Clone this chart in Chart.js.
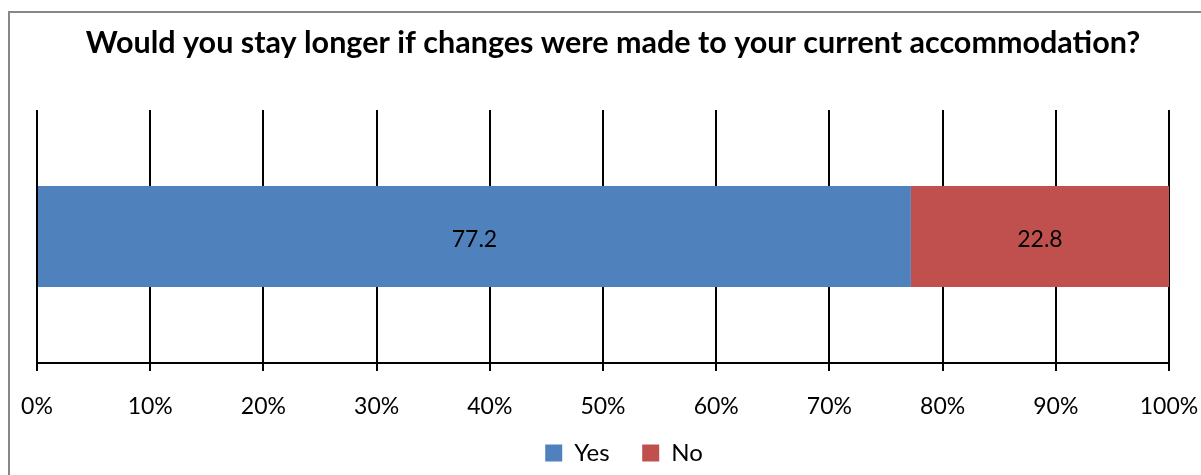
<!DOCTYPE html>
<html>
<head>
<meta charset="utf-8">
<script src="https://cdn.jsdelivr.net/npm/chart.js@4.4.1/dist/chart.umd.min.js"></script>
<style>
  html, body { margin: 0; padding: 0; background: #fff; }
  #wrap { position: relative; width: 1201px; height: 475px; }
</style>
</head>
<body>
<div id="wrap"><canvas id="c" width="1201" height="475"></canvas></div>
<script>
// Survey answers, as a share of respondents (percent)
const categories = ['Would you stay longer'];
const seriesNames = ['Yes', 'No'];
const yesValues = [77.2];
const noValues = [22.8];
const tickValues = [0, 10, 20, 30, 40, 50, 60, 70, 80, 90, 100];
const titleText = 'Would you stay longer if changes were made to your current accommodation?';

const FONT = 'Lato, "Open Sans", sans-serif';

// Frame around the whole chart
const framePlugin = {
  id: 'frame',
  beforeDraw(chart) {
    const ctx = chart.ctx;
    ctx.save();
    ctx.fillStyle = '#fff';
    ctx.fillRect(0, 0, chart.width, chart.height);
    ctx.strokeStyle = '#878787';
    ctx.lineWidth = 2;
    ctx.strokeRect(9, 12, chart.width + 20, chart.height + 20);
    ctx.restore();
  },
  // title and legend sit a little to the right of the plot centre
  afterLayout(chart) {
    if (chart.legend) {
      chart.legend.left += 21;
      chart.legend.right += 21;
    }
    if (chart.titleBlock) {
      chart.titleBlock.left += 10;
      chart.titleBlock.right += 10;
    }
  }
};

// Value text centred inside each bar segment
const valueLabels = {
  id: 'valueLabels',
  afterDatasetsDraw(chart) {
    const ctx = chart.ctx;
    ctx.save();
    ctx.font = '23px ' + FONT;
    ctx.fillStyle = '#000';
    ctx.textAlign = 'center';
    ctx.textBaseline = 'middle';
    chart.data.datasets.forEach((ds, i) => {
      const meta = chart.getDatasetMeta(i);
      meta.data.forEach((bar, j) => {
        const cx = (bar.x + bar.base) / 2;
        ctx.fillText(String(ds.data[j]), cx, bar.y + 3);
      });
    });
    ctx.restore();
  }
};

new Chart(document.getElementById('c'), {
  type: 'bar',
  data: {
    labels: categories,
    datasets: [
      { label: seriesNames[0], data: yesValues, backgroundColor: '#4F81BD', borderWidth: 0 },
      { label: seriesNames[1], data: noValues, backgroundColor: '#C0504D', borderWidth: 0 }
    ]
  },
  options: {
    indexAxis: 'y',
    responsive: false,
    animation: false,
    devicePixelRatio: 1,
    barPercentage: 0.4,
    categoryPercentage: 1,
    layout: { padding: { left: 37, right: 32, top: 0, bottom: 0 } },
    scales: {
      x: {
        stacked: true,
        min: 0,
        max: 100,
        afterBuildTicks(scale) { scale.ticks = tickValues.map(v => ({ value: v })); },
        afterFit(scale) {
          scale.paddingLeft = 0;
          scale.paddingRight = 0;
          scale.height = 70;
        },
        grid: { color: '#000', lineWidth: 2, tickLength: 8, drawTicks: true },
        border: { display: true, color: '#000', width: 2 },
        ticks: {
          color: '#000',
          padding: 22,
          maxRotation: 0,
          font: { family: FONT, size: 23 },
          callback: v => v + '%'
        }
      },
      y: {
        stacked: true,
        display: false
      }
    },
    plugins: {
      title: {
        display: true,
        text: titleText,
        color: '#000',
        font: { family: FONT, size: 30.5, weight: 'bold' },
        padding: { top: 25, bottom: 48.4 }
      },
      legend: {
        position: 'bottom',
        labels: {
          color: '#000',
          boxWidth: 17,
          boxHeight: 17,
          padding: 8,
          font: { family: FONT, size: 24 },
          generateLabels(chart) {
            const items = Chart.defaults.plugins.legend.labels.generateLabels(chart);
            // wider spacing after every entry except the last
            items.forEach((it, i) => { if (i < items.length - 1) it.text += '    '; });
            return items;
          }
        }
      },
      tooltip: { enabled: false }
    }
  },
  plugins: [framePlugin, valueLabels]
});
</script>
</body>
</html>
